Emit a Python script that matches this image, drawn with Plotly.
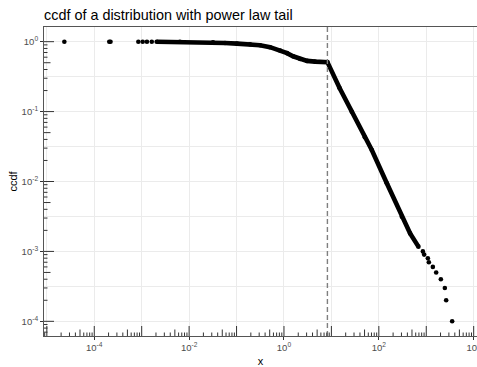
import math
import plotly.graph_objects as go

# Empirical ccdf, read as (x, ccdf) pairs
# isolated small observations (ccdf close to 1)
body_x = [2.34e-5, 2.07e-4, 2.2e-4, 8.5e-4, 1.05e-3, 1.29e-3, 1.63e-3]
body_ccdf = [1.0, 0.9999, 0.9998, 0.9997, 0.9996, 0.9995, 0.9994]

# densely populated part of the ccdf (body and power-law tail)
dense_x = [2.07e-3, 6.4e-3, 0.0319, 0.0571, 0.102, 0.192, 0.313, 0.508, 0.827,
           1.16, 1.556, 2.19, 3.07, 4.53, 8.24, 14.96, 26.9, 50.7, 71.1,
           147.5, 305.6, 457, 684]
dense_ccdf = [0.999, 0.997, 0.977, 0.958, 0.939, 0.918, 0.891, 0.834, 0.748,
              0.685, 0.618, 0.566, 0.531, 0.519, 0.51, 0.2155, 0.0993, 0.0429,
              0.0282, 0.00942, 0.00313, 0.00181, 0.00117]

# largest observations, one point each
tail_x = [848, 903, 1081, 1135, 1377, 1618, 2032, 2466, 2630, 3516]
tail_ccdf = [1e-3, 9e-4, 8e-4, 7e-4, 6e-4, 5e-4, 4e-4, 3e-4, 2e-4, 1e-4]

# estimated lower cutoff of the power-law tail
xmin = 8.24

x_major = [1e-4, 1e-2, 1e0, 1e2, 1e4]
x_major_text = ["10<sup>-4</sup>", "10<sup>-2</sup>", "10<sup>0</sup>",
                "10<sup>2</sup>", "10<sup>4</sup>"]
x_minor = [1e-5, 1e-3, 1e-1, 1e1, 1e3]
y_major = [1e-4, 1e-3, 1e-2, 1e-1, 1e0]
y_major_text = ["10<sup>-4</sup>", "10<sup>-3</sup>", "10<sup>-2</sup>",
                "10<sup>-1</sup>", "10<sup>0</sup>"]
y_minor = [10 ** -4.5, 10 ** -3.5, 10 ** -2.5, 10 ** -1.5, 10 ** -0.5]

X_RANGE = [-5.06, 4.07]
Y_RANGE = [-4.21, 0.21]

FONT = "Liberation Sans, Arial, sans-serif"
W, H = 477, 367
M = dict(l=44, r=0, t=27, b=31)
PW = W - M["l"] - M["r"]
PH = H - M["t"] - M["b"]

fig = go.Figure()

fig.add_trace(go.Scatter(
    x=dense_x, y=dense_ccdf, mode="lines+markers",
    line=dict(color="black", width=4.6),
    marker=dict(color="black", size=4.6),
    showlegend=False, hoverinfo="skip"))
fig.add_trace(go.Scatter(
    x=body_x + tail_x, y=body_ccdf + tail_ccdf, mode="markers",
    marker=dict(color="black", size=4.6),
    showlegend=False, hoverinfo="skip"))

fig.add_vline(x=xmin, line=dict(color="#7f7f7f", width=1.4, dash="5px,3px"))

# log tick marks drawn inside the panel (1, 5 and other mantissas)
for d in range(-6, 6):
    for m in range(1, 10):
        v = m * 10 ** d
        ln = 10 if m == 1 else (6.5 if m == 5 else 3.5)
        lv = d + math.log10(m)
        if X_RANGE[0] <= lv <= X_RANGE[1]:
            fig.add_shape(type="line", xref="x", yref="y domain",
                          x0=v, x1=v, y0=0, y1=ln / PH,
                          line=dict(color="#333333", width=1))
        if Y_RANGE[0] <= lv <= Y_RANGE[1]:
            fig.add_shape(type="line", xref="x domain", yref="y",
                          x0=0, x1=ln / PW, y0=v, y1=v,
                          line=dict(color="#333333", width=1))

axis_common = dict(
    type="log", showline=True, linecolor="#555555", linewidth=1, mirror=True,
    ticks="outside", ticklen=3, tickcolor="#333333", tickwidth=1,
    tickfont=dict(family=FONT, size=9.5, color="#4d4d4d"),
    showgrid=True, gridcolor="#ebebeb", gridwidth=1, zeroline=False,
    tickmode="array", ticklabeloverflow="allow", automargin=False,
)

fig.update_xaxes(
    **axis_common, range=X_RANGE, tickvals=x_major, ticktext=x_major_text,
    minor=dict(tickmode="array", tickvals=x_minor, showgrid=True,
               gridcolor="#ebebeb", gridwidth=1, ticks=""),
    title=dict(text="x", font=dict(family=FONT, size=11, color="black"),
               standoff=4),
)
fig.update_yaxes(
    **axis_common, range=Y_RANGE, tickvals=y_major, ticktext=y_major_text,
    minor=dict(tickmode="array", tickvals=y_minor, showgrid=True,
               gridcolor="#ebebeb", gridwidth=1, ticks=""),
    title=dict(text="ccdf", font=dict(family=FONT, size=11, color="black"),
               standoff=1),
)

fig.update_layout(
    width=W, height=H, margin=M,
    paper_bgcolor="white", plot_bgcolor="white",
    title=dict(text="ccdf of a distribution with power law tail",
               font=dict(family=FONT, size=14.4, color="black"),
               x=44 / W, xref="container", xanchor="left",
               y=1 - 15 / H, yref="container", yanchor="middle"),
    showlegend=False,
)

fig.write_html("out.html")
